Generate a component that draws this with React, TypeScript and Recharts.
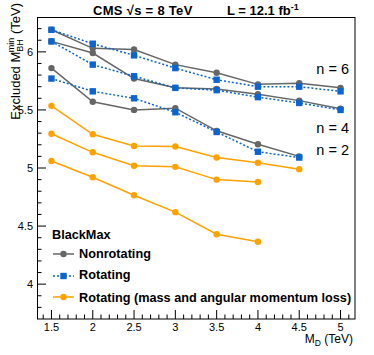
import React from 'react';
import { LineChart, Line, XAxis, YAxis } from 'recharts';

// M_D values (TeV)
const md = [1.5, 2, 2.5, 3, 3.5, 4, 4.5, 5];

// Nonrotating (BlackMax)
const nonrotN6 = [6.19, 6.03, 6.02, 5.89, 5.82, 5.72, 5.73, 5.69];
const nonrotN4 = [6.09, 5.99, 5.77, 5.69, 5.68, 5.635, 5.58, 5.51];
const nonrotN2 = [5.86, 5.57, 5.5, 5.515, 5.32, 5.205, 5.1, null];

// Rotating
const rotN6 = [6.19, 6.07, 5.97, 5.86, 5.76, 5.7, 5.7, 5.66];
const rotN4 = [6.09, 5.89, 5.79, 5.69, 5.67, 5.61, 5.56, 5.5];
const rotN2 = [5.77, 5.66, 5.6, 5.48, 5.31, 5.14, 5.09, null];

// Rotating (mass and angular momentum loss)
const lossN6 = [5.535, 5.29, 5.19, 5.185, 5.09, 5.045, 4.99, null];
const lossN4 = [5.295, 5.135, 5.02, 5.01, 4.9, 4.88, null, null];
const lossN2 = [5.06, 4.92, 4.765, 4.62, 4.43, 4.365, null, null];

const xTicks = Array.from({ length: 38 }, (_, i) => +(1.4 + i * 0.1).toFixed(1));
const yTicks = Array.from({ length: 25 }, (_, i) => +(3.8 + i * 0.1).toFixed(1));

const titleLeft = 'CMS';
const titleRight = 'L = 12.1 fb';
const legendTitle = 'BlackMax';
const legendLabels = ['Nonrotating', 'Rotating', 'Rotating (mass and angular momentum loss)'];
const nLabels = ['n = 6', 'n = 4', 'n = 2'];

const GRAY = '#666666';
const BLUE = '#0b64d0';
const ORANGE = '#ffa200';
const FONT = '"Liberation Sans", Arial, Helvetica, sans-serif';

const data = md.map((x, i) => ({
  x,
  nr6: nonrotN6[i],
  nr4: nonrotN4[i],
  nr2: nonrotN2[i],
  r6: rotN6[i],
  r4: rotN4[i],
  r2: rotN2[i],
  l6: lossN6[i],
  l4: lossN4[i],
  l2: lossN2[i],
}));

const isMajor = (v: number) => Math.abs(v * 2 - Math.round(v * 2)) < 1e-6;
const fmt = (v: number) => (Math.abs(v - Math.round(v)) < 1e-6 ? String(Math.round(v)) : v.toFixed(1));

const XTick = (props: any) => {
  const { x, y, payload } = props;
  const v = payload.value;
  const major = isMajor(v);
  return (
    <g>
      <line x1={x} x2={x} y1={y} y2={y - (major ? 9 : 4.5)} stroke="#000" strokeWidth={1} />
      {major && (
        <text x={x} y={y + 12} textAnchor="middle" fontSize={11} fill="#000" fontFamily={FONT}>
          {fmt(v)}
        </text>
      )}
    </g>
  );
};

const YTick = (props: any) => {
  const { x, y, payload } = props;
  const v = payload.value;
  const major = isMajor(v);
  return (
    <g>
      <line x1={x} x2={x + (major ? 9 : 4.5)} y1={y} y2={y} stroke="#000" strokeWidth={1} />
      {major && (
        <text x={x - 4} y={y + 4} textAnchor="end" fontSize={11} fill="#000" fontFamily={FONT}>
          {fmt(v)}
        </text>
      )}
    </g>
  );
};

const circleDot = (color: string) => (props: any) => {
  const { cx, cy, index } = props;
  if (cx == null || cy == null || isNaN(cy)) return <g key={index} />;
  return <circle key={index} cx={cx} cy={cy} r={3.2} fill={color} />;
};

const squareDot = (color: string) => (props: any) => {
  const { cx, cy, index } = props;
  if (cx == null || cy == null || isNaN(cy)) return <g key={index} />;
  return <rect key={index} x={cx - 3.2} y={cy - 3.2} width={6.4} height={6.4} fill={color} />;
};

export default function App() {
  const grayLine = (key: string) => (
    <Line key={key} dataKey={key} type="linear" stroke={GRAY} strokeWidth={1.5} dot={circleDot(GRAY)} isAnimationActive={false} connectNulls={false} />
  );
  const blueLine = (key: string) => (
    <Line key={key} dataKey={key} type="linear" stroke={BLUE} strokeWidth={1.5} strokeDasharray="2 2" dot={squareDot(BLUE)} isAnimationActive={false} connectNulls={false} />
  );
  const orangeLine = (key: string) => (
    <Line key={key} dataKey={key} type="linear" stroke={ORANGE} strokeWidth={1.5} dot={circleDot(ORANGE)} isAnimationActive={false} connectNulls={false} />
  );
  return (
    <div style={{ position: 'absolute', left: 0, top: 0, width: 374, height: 355, background: '#fff', fontFamily: FONT }}>
      <LineChart width={374} height={355} data={data} margin={{ top: 17, right: 19, bottom: 0, left: 0 }}>
        <XAxis
          dataKey="x"
          type="number"
          domain={[1.325, 5.175]}
          allowDataOverflow
          ticks={xTicks}
          interval={0}
          tickSize={0}
          tickMargin={0}
          axisLine={false}
          tickLine={false}
          tick={<XTick />}
          height={36}
        />
        <YAxis
          type="number"
          domain={[3.7, 6.3]}
          allowDataOverflow
          ticks={yTicks}
          interval={0}
          tickSize={0}
          tickMargin={0}
          axisLine={false}
          tickLine={false}
          tick={<YTick />}
          width={37}
        />
        {grayLine('nr6')}
        {grayLine('nr4')}
        {grayLine('nr2')}
        {blueLine('r6')}
        {blueLine('r4')}
        {blueLine('r2')}
        {orangeLine('l6')}
        {orangeLine('l4')}
        {orangeLine('l2')}
      </LineChart>
      <svg width={374} height={355} style={{ position: 'absolute', left: 0, top: 0, pointerEvents: 'none' }} fontFamily={FONT}>
        <rect x={37.5} y={17.5} width={317.5} height={301.5} fill="none" stroke="#000" strokeWidth={1} />
        <text x={93} y={15} fontSize={13} fontWeight="bold" fill="#000" letterSpacing={0.3}>
          {titleLeft} √s = 8 TeV
        </text>
        <text x={227} y={15} fontSize={13} fontWeight="bold" fill="#000">
          {titleRight}
          <tspan fontSize={9} dy={-5}>-1</tspan>
        </text>
        <text x={349} y={74} fontSize={14.5} textAnchor="end" fill="#000">{nLabels[0]}</text>
        <text x={349} y={133.3} fontSize={14.5} textAnchor="end" fill="#000">{nLabels[1]}</text>
        <text x={349} y={155} fontSize={14.5} textAnchor="end" fill="#000">{nLabels[2]}</text>
        <text x={52} y={239} fontSize={12.7} fontWeight="bold" fill="#000">{legendTitle}</text>
        <line x1={53} x2={74} y1={254} y2={254} stroke={GRAY} strokeWidth={1.5} />
        <circle cx={63.5} cy={254} r={3.2} fill={GRAY} />
        <text x={79} y={257.7} fontSize={12.7} fontWeight="bold" fill="#000">{legendLabels[0]}</text>
        <line x1={53} x2={74} y1={276} y2={276} stroke={BLUE} strokeWidth={1.5} strokeDasharray="2 2" />
        <rect x={60.3} y={272.8} width={6.4} height={6.4} fill={BLUE} />
        <text x={79} y={279.3} fontSize={12.7} fontWeight="bold" fill="#000">{legendLabels[1]}</text>
        <line x1={53} x2={74} y1={297} y2={297} stroke={ORANGE} strokeWidth={1.5} />
        <circle cx={63.5} cy={297} r={3.2} fill={ORANGE} />
        <text x={79} y={301.7} fontSize={12.7} fontWeight="bold" fill="#000">{legendLabels[2]}</text>
        <text x={353} y={343} fontSize={12} textAnchor="end" fill="#000">
          M<tspan fontSize={8.5} dy={3}>D</tspan>
          <tspan dy={-3}> (TeV)</tspan>
        </text>
        <text x={20} y={3} fontSize={13} textAnchor="end" fill="#000" transform="rotate(-90 20 3)">
          Excluded M
          <tspan fontSize={9} dy={3}>BH</tspan>
          <tspan fontSize={9} dx={-13} dy={-9}>min</tspan>
          <tspan dy={6}> (TeV)</tspan>
        </text>
      </svg>
    </div>
  );
}
